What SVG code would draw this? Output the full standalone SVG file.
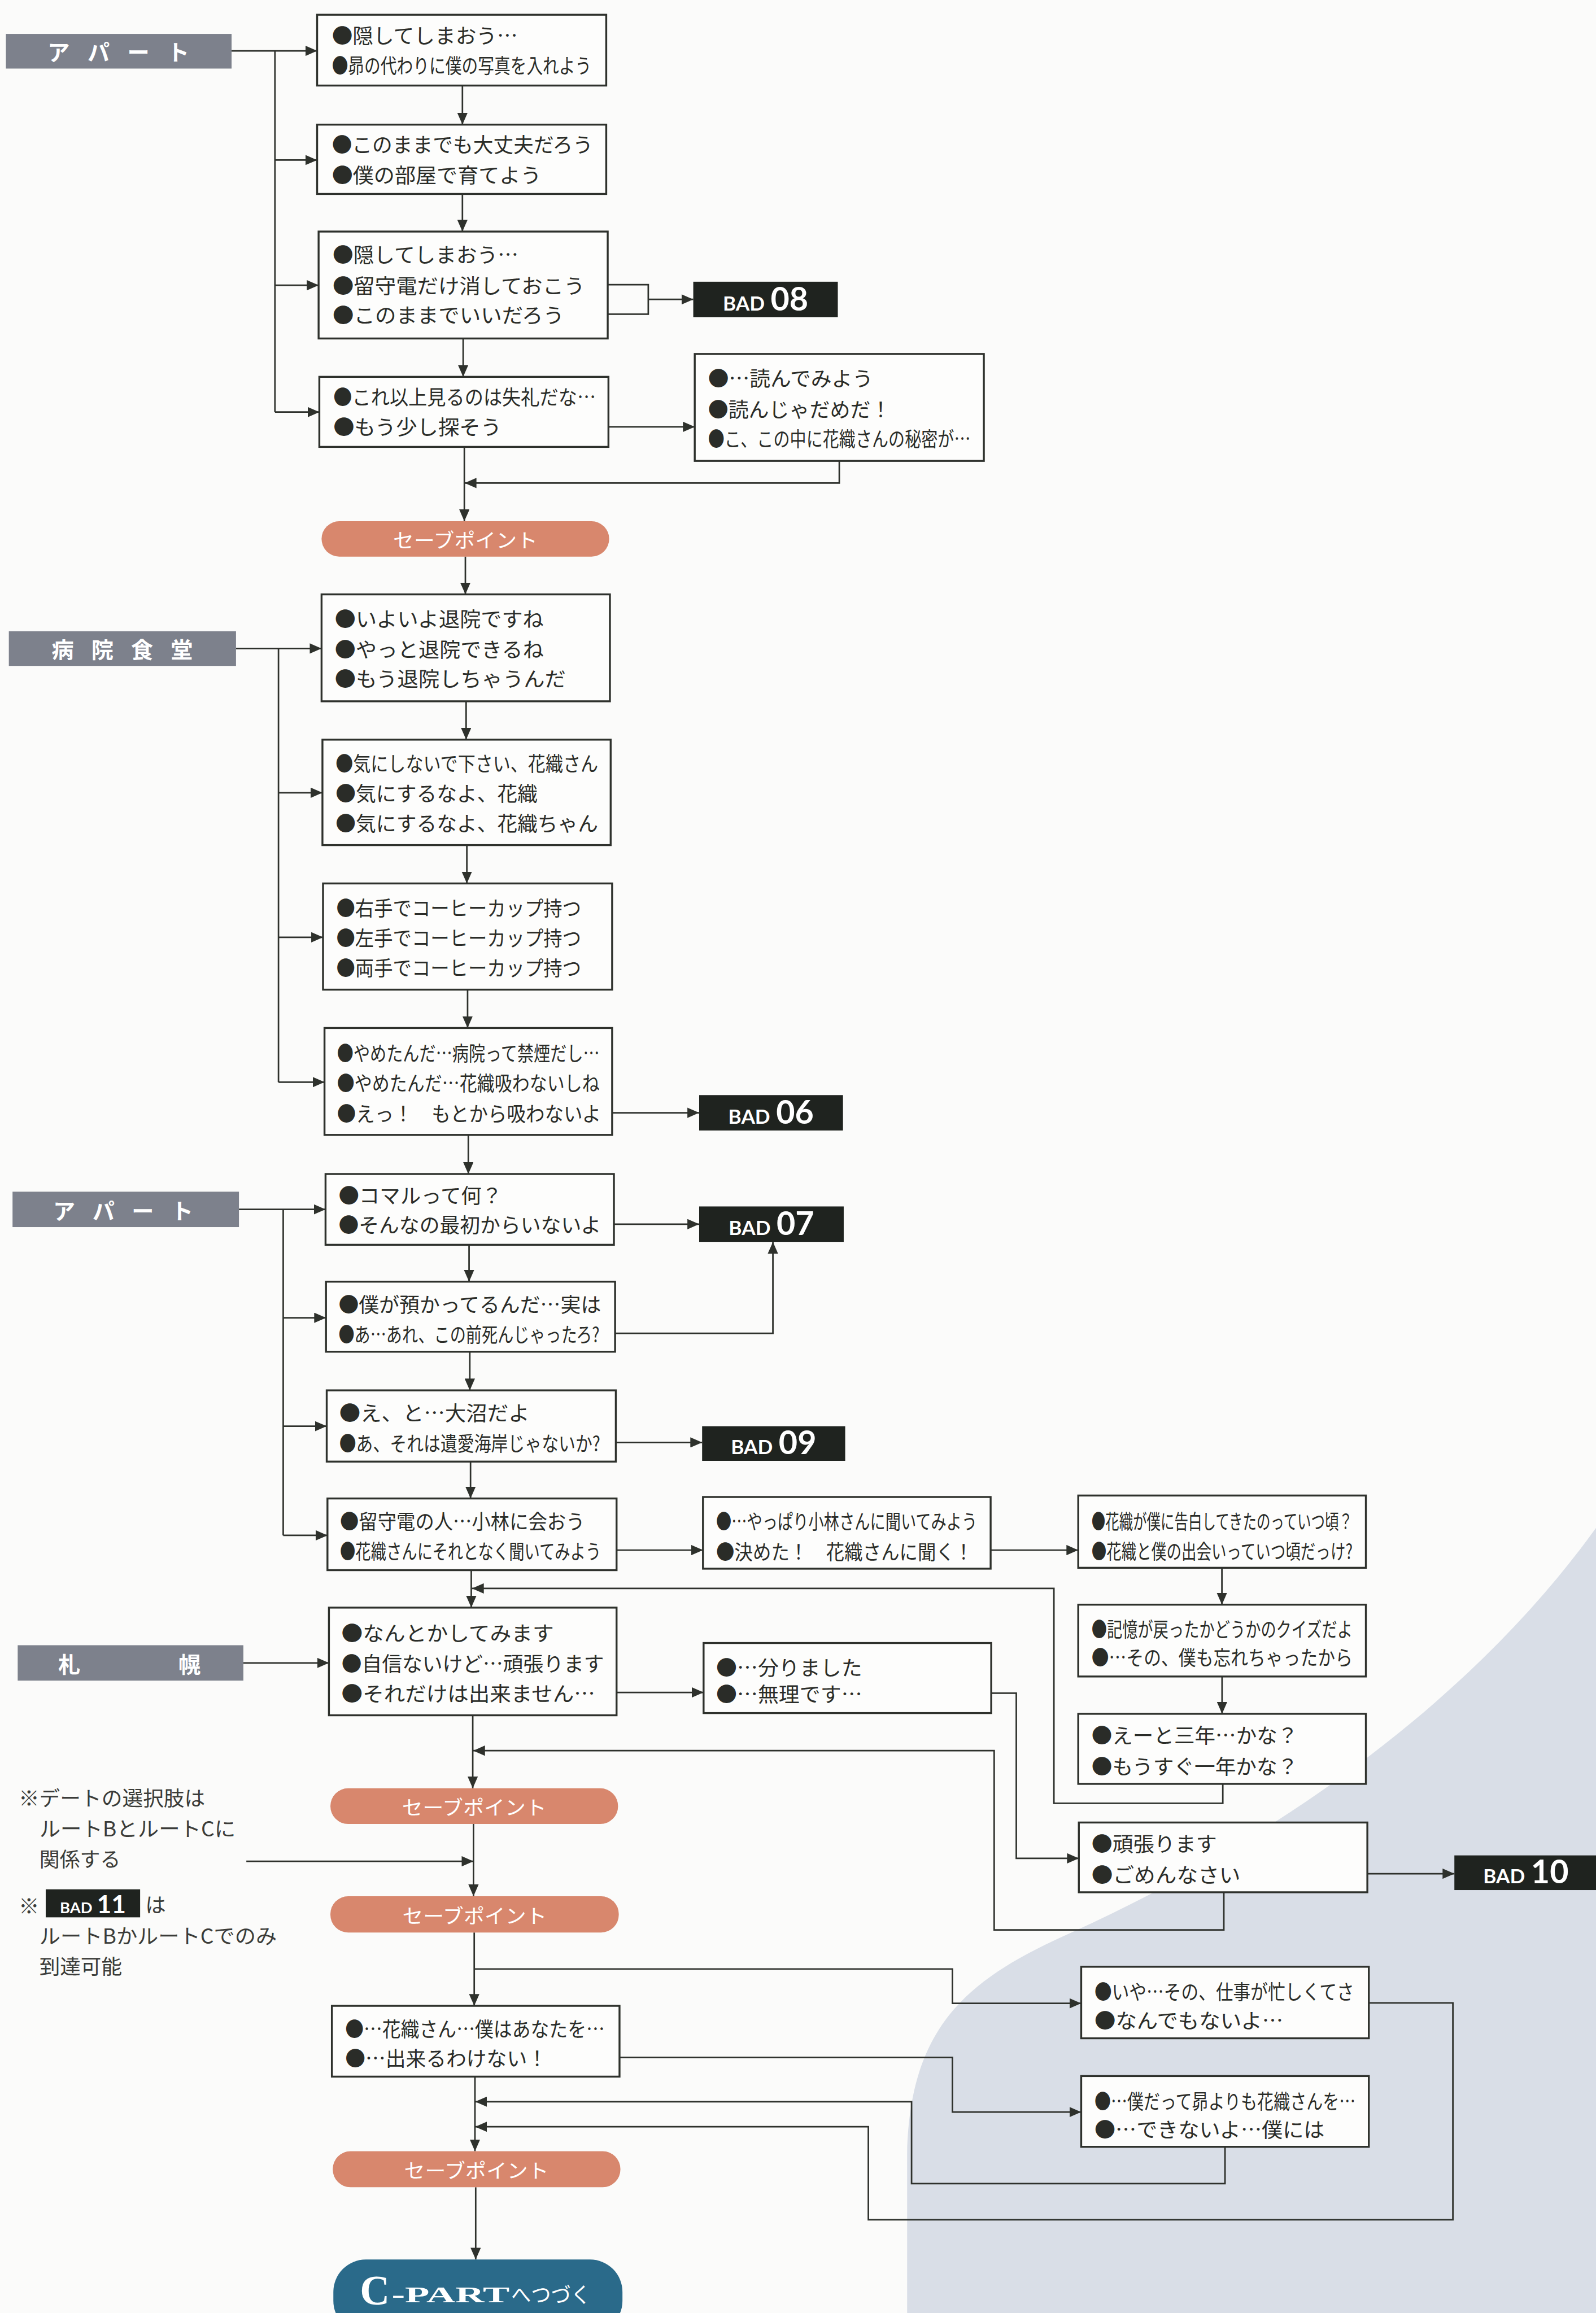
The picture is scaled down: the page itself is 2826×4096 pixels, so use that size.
<svg xmlns="http://www.w3.org/2000/svg" width="2826" height="4096" viewBox="0 0 2826 4096">
<defs>
<style>
.bg{fill:#fbfbfa}
.shade{fill:#d9dee7}
.box{fill:#fdfdfc;stroke:#2e312c;stroke-width:1.3}
.ln{fill:none;stroke:#2e312c;stroke-width:1.05}
.arr{marker-end:url(#ah)}
.t{font-family:"Noto Sans CJK JP","Noto Sans CJK SC",sans-serif;font-size:14px;fill:#2a2c28;dominant-baseline:central}
.note{font-family:"Noto Sans CJK JP","Noto Sans CJK SC",sans-serif;font-size:14px;fill:#3a3b38;dominant-baseline:central}
.bar{fill:#7d818c}
.bl{font-family:"Noto Sans CJK JP","Noto Sans CJK SC",sans-serif;font-size:15px;font-weight:bold;fill:#ffffff;dominant-baseline:central}
.sp{fill:#d8876d}
.spt{font-family:"Noto Sans CJK JP","Noto Sans CJK SC",sans-serif;font-size:13.5px;fill:#ffffff;text-anchor:middle;dominant-baseline:central}
.bad{fill:#1f231f}
.badt{font-family:Lato,"Open Sans",sans-serif;font-weight:bold;fill:#ffffff;text-anchor:middle}
.cp{fill:#2a6a8a}
.cpt{fill:#ffffff}
</style>
<marker id="ah" markerUnits="userSpaceOnUse" markerWidth="8" markerHeight="7" refX="8" refY="3.5" orient="auto">
<path d="M0,0 L8,3.5 L0,7 z" fill="#2e312c"/>
</marker>
</defs>
<rect class="bg" x="0" y="0" width="2826" height="4096"/>
<g transform="scale(2.6118)">
<path class="shade" d="M1082,1036 C1000,1150 870,1245 727,1310 C660,1340 617,1370 615,1460 L615,1570 L1083,1570 Z"/>

<g id="connectors">
<path class="ln arr" d="M157,34.5 H215"/>
<path class="ln" d="M186.4,34.5 V279.4"/>
<path class="ln arr" d="M186.4,108.5 H215"/>
<path class="ln arr" d="M186.4,193.4 H216"/>
<path class="ln arr" d="M186.4,279.4 H216.5"/>
<path class="ln arr" d="M313.5,58 V84.5"/>
<path class="ln arr" d="M313.5,131.5 V157"/>
<path class="ln arr" d="M314,229.5 V255.5"/>
<path class="ln arr" d="M314.8,303 V353.4"/>
<path class="ln" d="M402.5,193 H439.5 V213 H386.5"/>
<path class="ln arr" d="M439.5,203 H470"/>
<path class="ln arr" d="M343.5,289.4 H471"/>
<path class="ln arr" d="M569,312.4 V327.5 H315"/>
<path class="ln arr" d="M315.5,377.3 V403"/>
<path class="ln arr" d="M160,439.7 H218"/>
<path class="ln" d="M188.8,439.7 V733.7"/>
<path class="ln arr" d="M188.8,537.5 H218.6"/>
<path class="ln arr" d="M188.8,635.5 H219"/>
<path class="ln arr" d="M188.8,733.7 H220"/>
<path class="ln arr" d="M316,475.5 V501.5"/>
<path class="ln arr" d="M316.5,573 V599"/>
<path class="ln arr" d="M317,671 V697"/>
<path class="ln arr" d="M317.5,769.5 V796"/>
<path class="ln arr" d="M408,754.5 H474"/>
<path class="ln arr" d="M162,820 H220.7"/>
<path class="ln" d="M192,820 V1041"/>
<path class="ln arr" d="M192,893.5 H221"/>
<path class="ln arr" d="M192,967 H221.5"/>
<path class="ln arr" d="M192,1041 H222"/>
<path class="ln arr" d="M318,844 V869"/>
<path class="ln arr" d="M318.5,916.5 V942.7"/>
<path class="ln arr" d="M319,991 V1016"/>
<path class="ln arr" d="M319.5,1064.6 V1090"/>
<path class="ln arr" d="M409,830 H474"/>
<path class="ln arr" d="M410,904 H524 V842"/>
<path class="ln arr" d="M407,978 H476"/>
<path class="ln arr" d="M407,1051 H476.6"/>
<path class="ln arr" d="M665.5,1051 H731"/>
<path class="ln arr" d="M828.4,1063 V1088"/>
<path class="ln arr" d="M828.5,1136.7 V1162"/>
<path class="ln arr" d="M829,1209.5 V1222.7 H714.5 V1077 H320"/>
<path class="ln arr" d="M165,1127.5 H223"/>
<path class="ln arr" d="M411,1147.5 H477"/>
<path class="ln arr" d="M591,1148 H689 V1260 H731.4"/>
<path class="ln arr" d="M846,1270.4 H986"/>
<path class="ln arr" d="M829.7,1283 V1308.5 H674 V1187 H320.8"/>
<path class="ln arr" d="M320.5,1163 V1212.5"/>
<path class="ln arr" d="M321,1236.7 V1285.7"/>
<path class="ln arr" d="M167,1262 H321"/>
<path class="ln arr" d="M321.5,1310.3 V1360"/>
<path class="ln arr" d="M321.5,1335 H645.7 V1358.3 H733"/>
<path class="ln arr" d="M380,1395 H645.7 V1432 H733"/>
<path class="ln arr" d="M830.5,1455.5 V1480.5 H618 V1425 H322.2"/>
<path class="ln arr" d="M928,1358 H985 V1505 H588.7 V1442 H322.2"/>
<path class="ln arr" d="M322,1408 V1458.6"/>
<path class="ln arr" d="M322.5,1483 V1532"/>
</g>

<g id="bar-apart1"><rect class="bar" x="4" y="23" width="153" height="23.5"/><text class="bl" x="32.3" y="34.5" textLength="96" lengthAdjust="spacing">ア パ ー ト</text></g>
<g id="bar-hospital"><rect class="bar" x="6" y="428" width="154" height="23.5"/><text class="bl" x="35" y="439.7" textLength="95.7" lengthAdjust="spacing">病 院 食 堂</text></g>
<g id="bar-apart2"><rect class="bar" x="8.5" y="808" width="153.5" height="24"/><text class="bl" x="36" y="820" textLength="95" lengthAdjust="spacing">ア パ ー ト</text></g>
<g id="bar-sapporo"><rect class="bar" x="12" y="1115.5" width="153" height="24"/><text class="bl" x="39.4" y="1127.5" textLength="96.6" lengthAdjust="spacing">札　　　幌</text></g>

<g id="a1"><rect class="box" x="215" y="10" width="196" height="48"/>
<text class="t" x="225" y="23.5" textLength="126" lengthAdjust="spacingAndGlyphs">●隠してしまおう…</text>
<text class="t" x="225" y="44" textLength="176" lengthAdjust="spacingAndGlyphs">●昴の代わりに僕の写真を入れよう</text></g>
<g id="a2"><rect class="box" x="215" y="84.5" width="196" height="47"/>
<text class="t" x="225" y="97.5" textLength="177" lengthAdjust="spacingAndGlyphs">●このままでも大丈夫だろう</text>
<text class="t" x="225" y="118" textLength="142" lengthAdjust="spacingAndGlyphs">●僕の部屋で育てよう</text></g>
<g id="a3"><rect class="box" x="216" y="157" width="196" height="72.5"/>
<text class="t" x="225.5" y="172" textLength="126" lengthAdjust="spacingAndGlyphs">●隠してしまおう…</text>
<text class="t" x="225.5" y="193" textLength="171" lengthAdjust="spacingAndGlyphs">●留守電だけ消しておこう</text>
<text class="t" x="225.5" y="213" textLength="157" lengthAdjust="spacingAndGlyphs">●このままでいいだろう</text></g>
<g id="a4"><rect class="box" x="216.5" y="255.5" width="196" height="47.5"/>
<text class="t" x="226" y="268.5" textLength="178" lengthAdjust="spacingAndGlyphs">●これ以上見るのは失礼だな…</text>
<text class="t" x="226" y="289" textLength="114" lengthAdjust="spacingAndGlyphs">●もう少し探そう</text></g>
<g id="bad08"><rect class="bad" x="470" y="191" width="98" height="24"/>
<text class="badt" x="519" y="210.5"><tspan font-size="13.5">BAD</tspan><tspan dx="4" font-size="22">08</tspan></text></g>
<g id="r1"><rect class="box" x="471" y="240" width="196" height="72.5"/>
<text class="t" x="480" y="256" textLength="112" lengthAdjust="spacingAndGlyphs">●…読んでみよう</text>
<text class="t" x="480" y="277" textLength="124" lengthAdjust="spacingAndGlyphs">●読んじゃだめだ！</text>
<text class="t" x="480" y="297" textLength="178" lengthAdjust="spacingAndGlyphs">●こ、この中に花織さんの秘密が…</text></g>
<g id="sp1"><rect class="sp" x="218" y="353.4" width="195" height="24" rx="12"/><text class="spt" x="315.5" y="365.4" textLength="98" lengthAdjust="spacingAndGlyphs">セーブポイント</text></g>

<g id="h1"><rect class="box" x="218" y="403" width="195.5" height="72.5"/>
<text class="t" x="227" y="419" textLength="141.6" lengthAdjust="spacingAndGlyphs">●いよいよ退院ですね</text>
<text class="t" x="227" y="439.7" textLength="141.6" lengthAdjust="spacingAndGlyphs">●やっと退院できるね</text>
<text class="t" x="227" y="459.5" textLength="156.6" lengthAdjust="spacingAndGlyphs">●もう退院しちゃうんだ</text></g>
<g id="h2"><rect class="box" x="218.6" y="501.5" width="195.4" height="71.5"/>
<text class="t" x="227.5" y="517" textLength="178" lengthAdjust="spacingAndGlyphs">●気にしないで下さい、花織さん</text>
<text class="t" x="227.5" y="537.5" textLength="137" lengthAdjust="spacingAndGlyphs">●気にするなよ、花織</text>
<text class="t" x="227.5" y="557.5" textLength="178" lengthAdjust="spacingAndGlyphs">●気にするなよ、花織ちゃん</text></g>
<g id="h3"><rect class="box" x="219" y="599" width="196" height="72"/>
<text class="t" x="228" y="615" textLength="166" lengthAdjust="spacingAndGlyphs">●右手でコーヒーカップ持つ</text>
<text class="t" x="228" y="635.5" textLength="166" lengthAdjust="spacingAndGlyphs">●左手でコーヒーカップ持つ</text>
<text class="t" x="228" y="655.5" textLength="166" lengthAdjust="spacingAndGlyphs">●両手でコーヒーカップ持つ</text></g>
<g id="h4"><rect class="box" x="220" y="697" width="195" height="72.5"/>
<text class="t" x="228.5" y="713.5" textLength="178" lengthAdjust="spacingAndGlyphs">●やめたんだ…病院って禁煙だし…</text>
<text class="t" x="228.5" y="733.7" textLength="178" lengthAdjust="spacingAndGlyphs">●やめたんだ…花織吸わないしね</text>
<text class="t" x="228.5" y="754.5" textLength="179" lengthAdjust="spacingAndGlyphs">●えっ！　もとから吸わないよ</text></g>
<g id="bad06"><rect class="bad" x="474" y="742.5" width="97.5" height="24"/>
<text class="badt" x="522.7" y="762"><tspan font-size="13.5">BAD</tspan><tspan dx="4" font-size="22">06</tspan></text></g>

<g id="b1"><rect class="box" x="220.7" y="796" width="195.5" height="48"/>
<text class="t" x="229.5" y="810" textLength="111" lengthAdjust="spacingAndGlyphs">●コマルって何？</text>
<text class="t" x="229.5" y="830" textLength="178" lengthAdjust="spacingAndGlyphs">●そんなの最初からいないよ</text></g>
<g id="bad07"><rect class="bad" x="474" y="818" width="98" height="24"/>
<text class="badt" x="523" y="837.5"><tspan font-size="13.5">BAD</tspan><tspan dx="4" font-size="22">07</tspan></text></g>
<g id="b2"><rect class="box" x="221" y="869" width="196" height="47.5"/>
<text class="t" x="229.5" y="884" textLength="178" lengthAdjust="spacingAndGlyphs">●僕が預かってるんだ…実は</text>
<text class="t" x="229.5" y="904" textLength="177" lengthAdjust="spacingAndGlyphs">●あ…あれ、この前死んじゃったろ?</text></g>
<g id="b3"><rect class="box" x="221.5" y="942.7" width="196" height="48.3"/>
<text class="t" x="230" y="957.5" textLength="129" lengthAdjust="spacingAndGlyphs">●え、と…大沼だよ</text>
<text class="t" x="230" y="978" textLength="177" lengthAdjust="spacingAndGlyphs">●あ、それは遺愛海岸じゃないか?</text></g>
<g id="bad09"><rect class="bad" x="476" y="967" width="97" height="23.5"/>
<text class="badt" x="524.5" y="986"><tspan font-size="13.5">BAD</tspan><tspan dx="4" font-size="22">09</tspan></text></g>
<g id="b4"><rect class="box" x="222" y="1016" width="196" height="48.6"/>
<text class="t" x="230.5" y="1031" textLength="166" lengthAdjust="spacingAndGlyphs">●留守電の人…小林に会おう</text>
<text class="t" x="230.5" y="1051" textLength="177" lengthAdjust="spacingAndGlyphs">●花織さんにそれとなく聞いてみよう</text></g>
<g id="c1"><rect class="box" x="476.6" y="1015" width="195" height="48.6"/>
<text class="t" x="485.5" y="1031" textLength="177" lengthAdjust="spacingAndGlyphs">●…やっぱり小林さんに聞いてみよう</text>
<text class="t" x="485.5" y="1051.5" textLength="174" lengthAdjust="spacingAndGlyphs">●決めた！　花織さんに聞く！</text></g>
<g id="c2"><rect class="box" x="731" y="1014" width="195" height="49"/>
<text class="t" x="740" y="1031" textLength="177" lengthAdjust="spacingAndGlyphs">●花織が僕に告白してきたのっていつ頃？</text>
<text class="t" x="740" y="1051" textLength="177" lengthAdjust="spacingAndGlyphs">●花織と僕の出会いっていつ頃だっけ?</text></g>
<g id="c3"><rect class="box" x="731" y="1088" width="195" height="48.7"/>
<text class="t" x="740" y="1104" textLength="177" lengthAdjust="spacingAndGlyphs">●記憶が戻ったかどうかのクイズだよ</text>
<text class="t" x="740" y="1123" textLength="177" lengthAdjust="spacingAndGlyphs">●…その、僕も忘れちゃったから</text></g>
<g id="c4"><rect class="box" x="731" y="1162" width="195" height="47.5"/>
<text class="t" x="740" y="1176" textLength="140" lengthAdjust="spacingAndGlyphs">●えーと三年…かな？</text>
<text class="t" x="740" y="1197" textLength="140" lengthAdjust="spacingAndGlyphs">●もうすぐ一年かな？</text></g>

<g id="d1"><rect class="box" x="223" y="1090" width="195" height="73"/>
<text class="t" x="231.5" y="1106.6" textLength="144" lengthAdjust="spacingAndGlyphs">●なんとかしてみます</text>
<text class="t" x="231.5" y="1127.5" textLength="178" lengthAdjust="spacingAndGlyphs">●自信ないけど…頑張ります</text>
<text class="t" x="231.5" y="1147.5" textLength="172" lengthAdjust="spacingAndGlyphs">●それだけは出来ません…</text></g>
<g id="s1"><rect class="box" x="477" y="1114" width="195" height="47.5"/>
<text class="t" x="485.5" y="1130" textLength="99" lengthAdjust="spacingAndGlyphs">●…分りました</text>
<text class="t" x="485.5" y="1148" textLength="99" lengthAdjust="spacingAndGlyphs">●…無理です…</text></g>
<g id="c5"><rect class="box" x="731.4" y="1235.7" width="195.6" height="47.3"/>
<text class="t" x="740" y="1249.5" textLength="85" lengthAdjust="spacingAndGlyphs">●頑張ります</text>
<text class="t" x="740" y="1270.4" textLength="101" lengthAdjust="spacingAndGlyphs">●ごめんなさい</text></g>
<g id="bad10"><rect class="bad" x="986" y="1258" width="98" height="23.5"/>
<text class="badt" x="1034.5" y="1277"><tspan font-size="13.5">BAD</tspan><tspan dx="4" font-size="22">10</tspan></text></g>
<g id="sp2"><rect class="sp" x="224" y="1212.5" width="195" height="24.2" rx="12"/><text class="spt" x="321.5" y="1224.6" textLength="98" lengthAdjust="spacingAndGlyphs">セーブポイント</text></g>
<g id="sp3"><rect class="sp" x="224" y="1285.7" width="195.5" height="24.6" rx="12"/><text class="spt" x="321.8" y="1298" textLength="98" lengthAdjust="spacingAndGlyphs">セーブポイント</text></g>

<g id="notes">
<text class="note" x="12.6" y="1218.6" textLength="126.5" lengthAdjust="spacingAndGlyphs">※デートの選択肢は</text>
<text class="note" x="26.7" y="1239.3" textLength="133" lengthAdjust="spacingAndGlyphs">ルートBとルートCに</text>
<text class="note" x="26.7" y="1260" textLength="55" lengthAdjust="spacingAndGlyphs">関係する</text>
<text class="note" x="12.6" y="1291.5">※</text>
<rect class="bad" x="31" y="1281" width="64" height="19"/>
<text class="badt" x="63" y="1297"><tspan font-size="10.5">BAD</tspan><tspan dx="3" font-size="17">11</tspan></text>
<text class="note" x="98.5" y="1291">は</text>
<text class="note" x="26.7" y="1312" textLength="161" lengthAdjust="spacingAndGlyphs">ルートBかルートCでのみ</text>
<text class="note" x="26.7" y="1332.5" textLength="56" lengthAdjust="spacingAndGlyphs">到達可能</text>
</g>

<g id="e1"><rect class="box" x="225" y="1360" width="195" height="48"/>
<text class="t" x="234" y="1375" textLength="176" lengthAdjust="spacingAndGlyphs">●…花織さん…僕はあなたを…</text>
<text class="t" x="234" y="1395" textLength="137" lengthAdjust="spacingAndGlyphs">●…出来るわけない！</text></g>
<g id="e2"><rect class="box" x="733" y="1333.5" width="195" height="48.5"/>
<text class="t" x="742" y="1350" textLength="176" lengthAdjust="spacingAndGlyphs">●いや…その、仕事が忙しくてさ</text>
<text class="t" x="742" y="1369.5" textLength="128" lengthAdjust="spacingAndGlyphs">●なんでもないよ…</text></g>
<g id="e3"><rect class="box" x="733" y="1407.6" width="195" height="48"/>
<text class="t" x="742" y="1424" textLength="177" lengthAdjust="spacingAndGlyphs">●…僕だって昴よりも花織さんを…</text>
<text class="t" x="742" y="1443.4" textLength="156" lengthAdjust="spacingAndGlyphs">●…できないよ…僕には</text></g>
<g id="sp4"><rect class="sp" x="225.6" y="1458.6" width="195" height="24.4" rx="12"/><text class="spt" x="323" y="1470.8" textLength="98" lengthAdjust="spacingAndGlyphs">セーブポイント</text></g>
<g id="cpart"><rect class="cp" x="226" y="1532" width="196" height="50" rx="22"/>
<text class="cpt" x="244" y="1562.5" font-family="'Liberation Serif',serif" font-weight="bold" font-size="28">C</text>
<text class="cpt" x="265.5" y="1561" font-family="'Liberation Serif',serif" font-weight="bold" font-size="15" textLength="80" lengthAdjust="spacingAndGlyphs">-PART</text>
<text class="cpt" x="346.5" y="1561" font-family="'Noto Sans CJK JP',sans-serif" font-size="14.5" textLength="54" lengthAdjust="spacingAndGlyphs">へつづく</text></g>
</g>
</svg>
